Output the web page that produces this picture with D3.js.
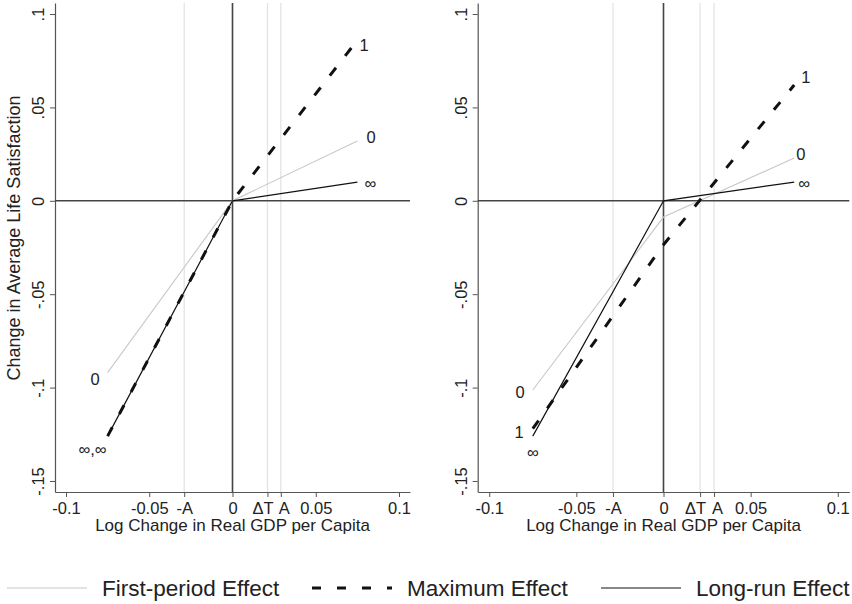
<!DOCTYPE html>
<html>
<head>
<meta charset="utf-8">
<script src="https://cdn.jsdelivr.net/npm/d3@7"></script>
<style>
  body { margin: 0; background: #fff; }
  text { font-family: "Liberation Sans", Arial, sans-serif; fill: #222; }
</style>
</head>
<body>
<div id="chart"></div>
<script>
// data
var gdpChange = [-0.075, 0, 0.075];
var xTicks = [-0.1, -0.05, 0, 0.05, 0.1];
var xTickLabels = ["-0.1", "-0.05", "0", "0.05", "0.1"];
var refTicks = [-0.029, 0.021, 0.029];
var refTickLabels = ["-A", "\u0394T", "A"];
var yTicks = [0.1, 0.05, 0, -0.05, -0.1, -0.15];
var yTickLabels = [".1", ".05", "0", "-.05", "-.1", "-.15"];

var leftFirst = [-0.092, 0, 0.032];
var leftMax = [-0.126, 0, 0.086];
var leftLong = [-0.126, 0, 0.010];

var rightFirst = [-0.1013, -0.0087, 0.0229];
var rightMax = [-0.122, -0.0235, 0.062];
var rightLong = [-0.126, 0, 0.010];

var seriesNames = ["First-period Effect", "Maximum Effect", "Long-run Effect"];

var width = 852, height = 604;
var svg = d3.select("#chart").append("svg")
    .attr("width", width)
    .attr("height", height);

var y = d3.scaleLinear()
    .domain([-0.1559, 0.1059])
    .range([492, 3]);

var styles = [
  {stroke: "#c8c8c8", width: 1.1, dash: null},
  {stroke: "#111", width: 3, dash: "10,15"},
  {stroke: "#111", width: 1.2, dash: null}
];

// small nudges so the close reference tick labels don't collide
var refLabelShift = {"\u0394T": -5, "A": 3};

function drawPanel(left, right, series, labels, showTitle) {
  var x = d3.scaleLinear()
      .domain([-0.1066, 0.1066])
      .range([left, right]);

  var g = svg.append("g");

  // reference lines at -A, dT, A
  g.selectAll(".ref")
    .data(refTicks)
    .enter().append("line")
      .attr("x1", function(d) { return x(d); })
      .attr("x2", function(d) { return x(d); })
      .attr("y1", y.range()[1])
      .attr("y2", y.range()[0])
      .attr("stroke", "#e4e4e4")
      .attr("stroke-width", 1.3);

  // axes
  var xAxis = g.append("g")
      .attr("transform", "translate(0," + y.range()[0] + ")")
      .call(d3.axisBottom(x)
        .tickValues(xTicks.concat(refTicks))
        .tickFormat(function(d, i) {
          return i < xTicks.length ? xTickLabels[i] : refTickLabels[i - xTicks.length];
        })
        .tickSize(5)
        .tickSizeOuter(0));
  xAxis.selectAll("text")
      .style("font-size", "16.5px")
      .attr("dy", "0.95em")
      .attr("y", 6)
      .attr("x", function(d, i) {
        var t = d3.select(this).text();
        return i >= xTicks.length && refLabelShift[t] ? refLabelShift[t] : 0;
      });

  var yAxis = g.append("g")
      .attr("transform", "translate(" + left + ",0)")
      .call(d3.axisLeft(y)
        .tickValues(yTicks)
        .tickFormat(function(d, i) { return yTickLabels[i]; })
        .tickSize(5)
        .tickSizeOuter(0));
  yAxis.selectAll("text")
      .attr("transform", "rotate(-90)")
      .attr("x", 0)
      .attr("y", -11)
      .attr("dy", 0)
      .style("text-anchor", "middle")
      .style("font-size", "16.5px");

  [xAxis, yAxis].forEach(function(a) {
    a.select(".domain").attr("stroke", "#555").attr("stroke-width", 1.2);
    a.selectAll(".tick line").attr("stroke", "#555");
  });

  // zero lines
  g.append("line")
    .attr("x1", x(0)).attr("x2", x(0))
    .attr("y1", y.range()[1]).attr("y2", y.range()[0])
    .attr("stroke", "#444").attr("stroke-width", 1.6);
  g.append("line")
    .attr("x1", left).attr("x2", right)
    .attr("y1", y(0)).attr("y2", y(0))
    .attr("stroke", "#444").attr("stroke-width", 1.6);

  var line = d3.line()
    .x(function(d, i) { return x(gdpChange[i]); })
    .y(function(d) { return y(d); });

  series.forEach(function(s, k) {
    g.append("path")
      .datum(s)
      .attr("d", line)
      .attr("fill", "none")
      .attr("stroke", styles[k].stroke)
      .attr("stroke-width", styles[k].width)
      .attr("stroke-dasharray", styles[k].dash);
  });

  // end labels
  labels.forEach(function(l) {
    var s = series[l.series];
    var idx = l.end === "hi" ? 2 : 0;
    g.append("text")
      .attr("x", x(gdpChange[idx]) + l.dx)
      .attr("y", y(s[idx]) + l.dy)
      .attr("dy", "0.36em")
      .attr("text-anchor", l.anchor)
      .style("font-size", "16.5px")
      .text(l.text);
  });

  g.append("text")
    .attr("x", x(0))
    .attr("y", 531)
    .attr("text-anchor", "middle")
    .style("font-size", "17px")
    .text("Log Change in Real GDP per Capita");

  if (showTitle) {
    g.append("text")
      .attr("transform", "translate(20," + 238 + ") rotate(-90)")
      .attr("text-anchor", "middle")
      .style("font-size", "18px")
      .text("Change in Average Life Satisfaction");
  }
}

drawPanel(55, 410, [leftFirst, leftMax, leftLong], [
  {series: 1, end: "hi", text: "1", dx: 2, dy: 5, anchor: "start"},
  {series: 0, end: "hi", text: "0", dx: 9, dy: -4, anchor: "start"},
  {series: 2, end: "hi", text: "\u221E", dx: 7, dy: 1, anchor: "start"},
  {series: 0, end: "lo", text: "0", dx: -8, dy: 6, anchor: "end"},
  {series: 2, end: "lo", text: "\u221E,\u221E", dx: -1, dy: 13, anchor: "end"}
], true);

drawPanel(477.7, 849.3, [rightFirst, rightMax, rightLong], [
  {series: 1, end: "hi", text: "1", dx: 7, dy: -8, anchor: "start"},
  {series: 0, end: "hi", text: "0", dx: 2, dy: -4, anchor: "start"},
  {series: 2, end: "hi", text: "\u221E", dx: 4, dy: 1, anchor: "start"},
  {series: 0, end: "lo", text: "0", dx: -8, dy: 2.5, anchor: "end"},
  {series: 1, end: "lo", text: "1", dx: -9, dy: 3, anchor: "end"},
  {series: 2, end: "lo", text: "\u221E", dx: 0, dy: 16, anchor: "middle"}
], false);

// legend
var legendX = [7, 312, 601];
var legend = svg.append("g").attr("transform", "translate(0,588)");
seriesNames.forEach(function(name, k) {
  legend.append("line")
    .attr("x1", legendX[k]).attr("x2", legendX[k] + 80)
    .attr("y1", 0).attr("y2", 0)
    .attr("stroke", styles[k].stroke)
    .attr("stroke-width", styles[k].width)
    .attr("stroke-dasharray", k === 1 ? "9,16" : null);
  legend.append("text")
    .attr("x", legendX[k] + 95)
    .attr("y", 8)
    .style("font-size", "22.5px")
    .text(name);
});
</script>
</body>
</html>
